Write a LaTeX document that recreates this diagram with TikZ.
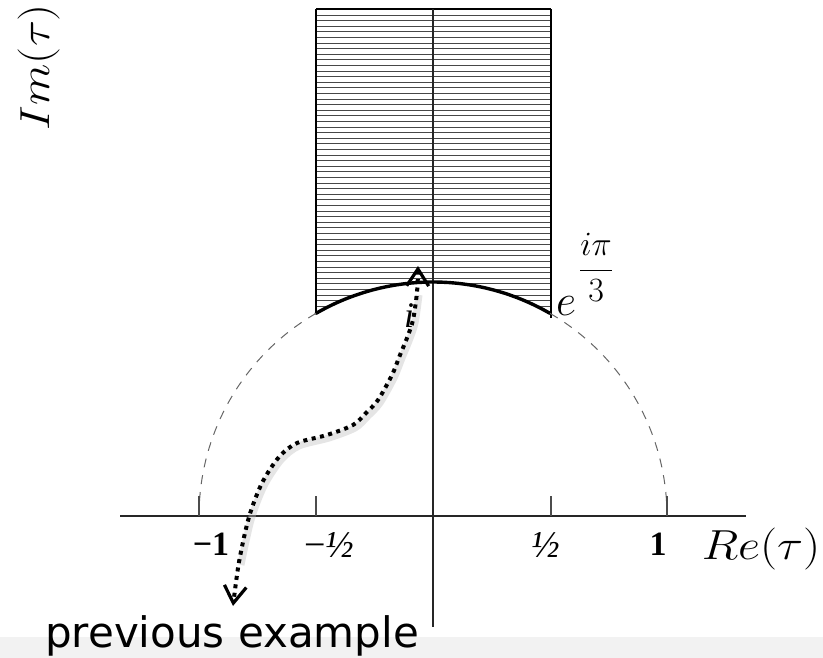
\RequirePackage{fix-cm}
\documentclass[tikz,border=0pt]{standalone}
\usepackage{amsmath}
\usepackage{graphicx}
\usepackage{fontspec}
\newfontfamily\timesf{Liberation Serif}
\newfontfamily\handf{DejaVu Sans}
\usetikzlibrary{arrows.meta}
\begin{document}
\begin{tikzpicture}[x=1pt,y=-1pt,
  axisline/.style={line width=2pt, black!85},
  tickline/.style={line width=1.3pt, black!70},
  dashcirc/.style={line width=1pt, black!60, dash pattern=on 9pt off 8pt},
  hatchline/.style={line width=1pt, black!72},
  boundarc/.style={line width=3.4pt, black, line cap=round},
  sideline/.style={line width=2.2pt, black},
  dotarrow/.style={line width=4pt, dash pattern=on 4pt off 4.5pt,
     arrows={Straight Barb[length=17pt,width=22pt,line width=3.2pt]-Straight Barb[length=17pt,width=22pt,line width=3.2pt]}},
  ticklab/.style={font=\timesf\bfseries\fontsize{34}{34}\selectfont, inner sep=0pt, anchor=base},
  halflab/.style={font=\timesf\fontsize{38}{38}\selectfont, inner sep=0pt, anchor=base},
  axlab/.style={font=\fontsize{42}{42}\selectfont, inner sep=0pt, anchor=base},
]
\useasboundingbox (0,0) rectangle (823,658);
\fill[black!5] (0,637) rectangle (823,658);

% hatching of the fundamental domain
\begin{scope}
  \clip (316,9) -- (551,9) -- plot[domain=60:120,samples=40] ({433+234*cos(\x)},{516-234*sin(\x)}) -- cycle;
  \foreach \k in {0,...,55} \draw[hatchline] (316,{9.5+5.6*\k}) -- (551,{9.5+5.6*\k});
\end{scope}

% sides and top of the strip
\draw[sideline] (316,9) -- (551,9);
\draw[sideline] (316,9) -- (316,314);
\draw[sideline] (551,9) -- (551,318);
% vertical axis
\draw[axisline] (433,9) -- (433,627);
% bounding arc
\draw[boundarc] plot[domain=60:120,samples=40] ({433+234*cos(\x)},{516-234*sin(\x)});
% dashed unit circle parts
\draw[dashcirc] plot[domain=120:180,samples=40] ({433+234*cos(\x)},{516-234*sin(\x)});
\draw[dashcirc] plot[domain=60:0,samples=40] ({433+234*cos(\x)},{516-234*sin(\x)});
% horizontal axis
\draw[axisline] (120,516) -- (746,516);
% ticks
\foreach \t in {199,316,551,667} \draw[tickline] (\t,496) -- (\t,516);

% tick labels
\node[ticklab] (lmone) at (211,555) {−1};
\node[halflab] (lmhalf) at (329,557) {−\textit{½}};
\node[halflab] (lhalf) at (546,557) {\textit{½}};
\node[ticklab] (lone) at (658,555) {1};
\node[axlab] (re) at (761,559) {\scalebox{1.15}[1]{$Re(\tau)$}};
\node[axlab, rotate=90] (im) at (49,67) {\scalebox{1.15}[1]{$Im(\tau)$}};

% dotted arrow shadow
\coordinate (tA) at (418,266);
\coordinate (tB) at (233,606);
\draw[black!25, line width=7pt, opacity=0.4, shift={(2,3)}] plot[smooth] coordinates {(417,292) (413,320) (407,338) (400,355) (392,375) (378,400) (366,413) (353,425) (327,435) (297,443) (279,457) (262,483) (249,517) (239,562)};

% point labels
\node[font=\timesf\itshape\fontsize{36}{36}\selectfont, inner sep=0pt, anchor=base] (ilab) at (409,327) {i};
\node[anchor=base west, inner sep=0pt] (eip) at (556,315)
  {\fontsize{44}{44}\selectfont$e$\kern3pt\raisebox{36.5pt}{\fontsize{34}{34}\selectfont$\dfrac{i\pi}{3}$}};

% dotted arrow
\draw[dotarrow] plot[smooth] coordinates {(tA) (417,292) (413,320) (407,338) (400,355) (392,375) (378,400) (366,413) (353,425) (327,435) (297,443) (279,457) (262,483) (249,517) (239,562) (tB)};

\node[anchor=base, inner sep=0pt, font=\handf\fontsize{42}{44}\selectfont] (prev) at (232,647) {previous example};
\end{tikzpicture}
\end{document}
